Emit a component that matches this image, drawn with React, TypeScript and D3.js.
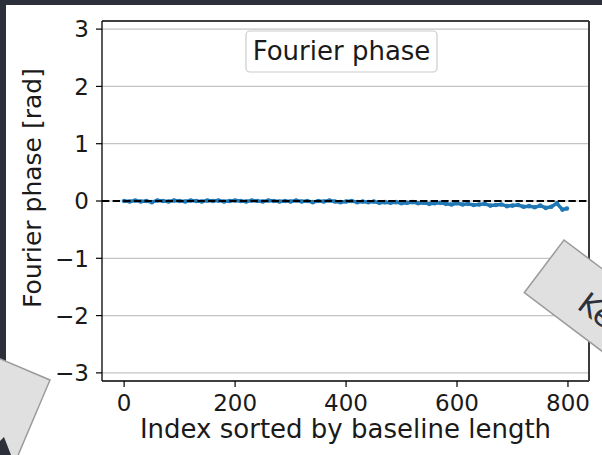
import React from 'react';
import * as d3 from 'd3';

// phase values, one every 10 indices (plus the last point)
const phaseIdx: number[] = [
  0, 10, 20, 30, 40, 50, 60, 70, 80, 90,
  100, 110, 120, 130, 140, 150, 160, 170, 180, 190,
  200, 210, 220, 230, 240, 250, 260, 270, 280, 290,
  300, 310, 320, 330, 340, 350, 360, 370, 380, 390,
  400, 410, 420, 430, 440, 450, 460, 470, 480, 490,
  500, 510, 520, 530, 540, 550, 560, 570, 580, 590,
  600, 610, 620, 630, 640, 650, 660, 670, 680, 690,
  700, 710, 720, 730, 740, 750, 760, 770, 780, 790, 798,
];
const phaseVal: number[] = [
  0.0, -0.01, 0.01, -0.01, 0.0, -0.02, 0.01, 0.0, -0.01, 0.01,
  0.0, -0.01, 0.01, 0.0, -0.01, 0.01, 0.0, 0.01, -0.01, 0.0,
  0.01, 0.0, -0.01, 0.01, 0.0, -0.01, 0.01, 0.0, -0.01, 0.0,
  -0.01, 0.01, -0.01, 0.0, -0.02, 0.0, -0.01, 0.01, -0.01, -0.02,
  -0.01, 0.0, -0.02, -0.01, -0.02, -0.01, -0.03, -0.02, -0.03, -0.02,
  -0.04, -0.03, -0.02, -0.04, -0.03, -0.05, -0.04, -0.03, -0.05, -0.06,
  -0.04, -0.06, -0.05, -0.07, -0.06, -0.05, -0.08, -0.07, -0.06, -0.09,
  -0.08, -0.07, -0.1, -0.09, -0.11, -0.08, -0.12, -0.1, -0.04, -0.15, -0.13,
];
const xTicks = [0, 200, 400, 600, 800];
const yTicks = [-3, -2, -1, 0, 1, 2, 3];

const W = 602;
const H = 455;
const font = 'DejaVu Sans, sans-serif';

const App: React.FC = () => {
  const left = 102, right = 589, top = 21, bottom = 381;
  const x = d3.scaleLinear().domain([-39.9, 837.9]).range([left, right]);
  const y = d3.scaleLinear().domain([-Math.PI, Math.PI]).range([bottom, top]);

  const pts = phaseIdx.map((d, i) => ({ i: d, v: phaseVal[i] }));
  const line = d3.line<{ i: number; v: number }>().x(d => x(d.i)).y(d => y(d.v));

  return (
    <svg width={W} height={H} style={{ position: 'absolute', left: 0, top: 0 }} fontFamily={font}>
      <rect x={0} y={0} width={W} height={H} fill="#2b303b" />
      <rect x={6} y={5} width={W - 6} height={H - 5} fill="#ffffff" />

      {/* grid */}
      {yTicks.map(t => (
        <line key={`g${t}`} x1={left} x2={right} y1={y(t)} y2={y(t)} stroke="#c4c4c4" strokeWidth={1.2} />
      ))}

      {/* data */}
      <path d={line(pts) || ''} fill="none" stroke="#1f77b4" strokeWidth={3.5} strokeLinejoin="round" />
      {pts.map((p, k) => (
        <circle key={k} cx={x(p.i)} cy={y(p.v)} r={2.3} fill="#1f77b4" />
      ))}
      <line x1={left} x2={right} y1={y(0)} y2={y(0)} stroke="#000" strokeWidth={2.2} strokeDasharray="7.4,3.2" />

      {/* spines */}
      <line x1={left} x2={right} y1={top} y2={top} stroke="#000" strokeWidth={1.3} />
      <line x1={left} x2={right} y1={bottom} y2={bottom} stroke="#000" strokeWidth={1.3} />
      <line x1={left} x2={left} y1={top} y2={bottom} stroke="#000" strokeWidth={1.3} />
      <line x1={right} x2={right} y1={top} y2={bottom} stroke="#3a3a3a" strokeWidth={2} />

      {/* y ticks */}
      {yTicks.map(t => (
        <g key={`y${t}`}>
          <line x1={left - 6} x2={left} y1={y(t)} y2={y(t)} stroke="#000" strokeWidth={1.2} />
          <text x={left - 13} y={y(t)} dy="0.36em" textAnchor="end" fontSize={23} fill="#1a1a1a">
            {t < 0 ? `\u2212${-t}` : t}
          </text>
        </g>
      ))}
      {/* x ticks */}
      {xTicks.map(t => (
        <g key={`x${t}`}>
          <line x1={x(t)} x2={x(t)} y1={bottom} y2={bottom + 6} stroke="#000" strokeWidth={1.2} />
          <text x={x(t)} y={411} textAnchor="middle" fontSize={23} fill="#1a1a1a">{t}</text>
        </g>
      ))}

      <text x={(left + right) / 2} y={438} textAnchor="middle" fontSize={26} fill="#1a1a1a">
        Index sorted by baseline length
      </text>
      <text transform={`translate(41,188) rotate(-90)`} textAnchor="middle" fontSize={25} fill="#1a1a1a">
        Fourier phase [rad]
      </text>

      {/* legend */}
      <rect x={246} y={31} width={191} height={41} rx={4} fill="#ffffff" fillOpacity={0.8} stroke="#cccccc" strokeWidth={1.2} />
      <text x={341.5} y={60} textAnchor="middle" fontSize={26} fill="#1a1a1a">Fourier phase</text>

      {/* overlapping slide elements */}
      <g transform="translate(564,240) rotate(37)">
        <rect x={0} y={0} width={160} height={66} fill="#e0e0e0" stroke="#9a9a9a" strokeWidth={1.5} />
        <text x={50} y={47} fontSize={30} fill="#2b303b">Ke</text>
      </g>
      <g transform="translate(50,380) rotate(23)">
        <rect x={-140} y={0} width={140} height={120} fill="#e0e0e0" stroke="#9a9a9a" strokeWidth={1.5} />
      </g>
      <path d="M0,441 L4,437 L11,455 L0,455 Z" fill="#2b303b" />
    </svg>
  );
};

export default App;
